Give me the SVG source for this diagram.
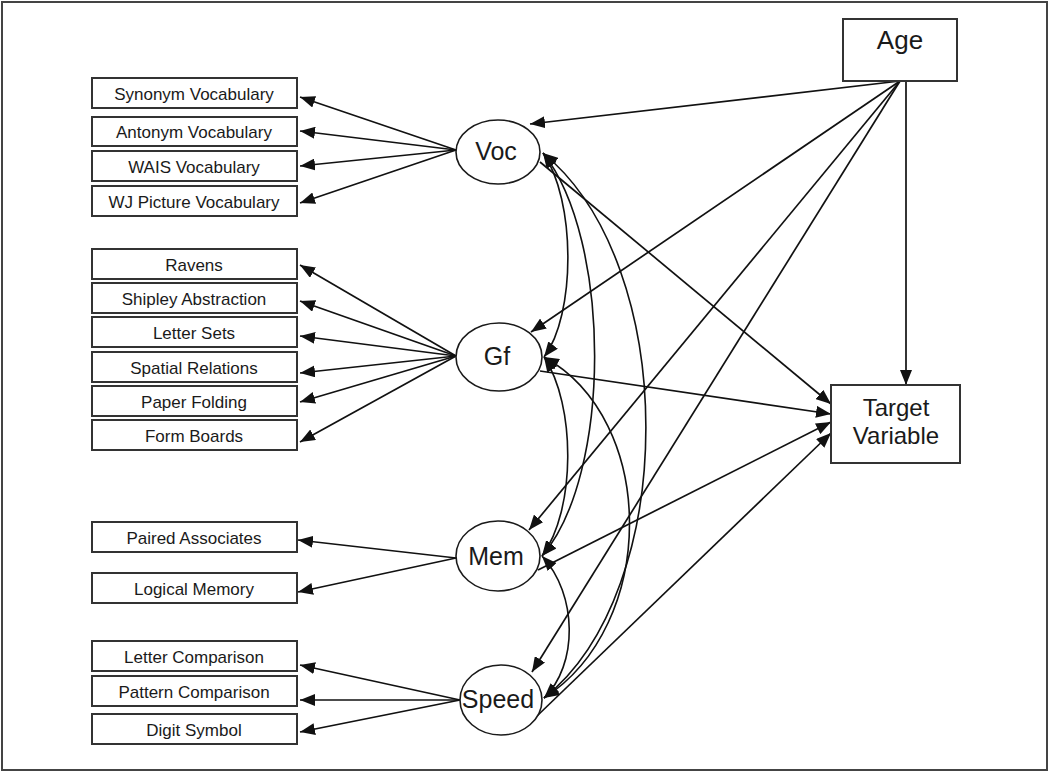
<svg xmlns="http://www.w3.org/2000/svg" width="1050" height="773" viewBox="0 0 1050 773">
<defs>
<style>
.box{fill:#fff;stroke:#333;stroke-width:2}
.ell{fill:#fff;stroke:#1a1a1a;stroke-width:1.6}
.t{font-family:"Liberation Sans",Arial,sans-serif;font-size:17px;fill:#1a1a1a;text-anchor:middle}
.lt{font-family:"Liberation Sans",Arial,sans-serif;font-size:25px;fill:#1a1a1a;text-anchor:middle}
.a{fill:none;stroke:#111;stroke-width:1.7;marker-end:url(#ah)}
.c{fill:none;stroke:#111;stroke-width:1.6;marker-end:url(#ah);marker-start:url(#ahs)}
</style>
<marker id="ah" markerUnits="userSpaceOnUse" markerWidth="16" markerHeight="12" refX="15" refY="6" orient="auto">
<path d="M0,0 L15,6 L0,12 z" fill="#111"/>
</marker>
<marker id="ahs" markerUnits="userSpaceOnUse" markerWidth="16" markerHeight="12" refX="15" refY="6" orient="auto-start-reverse">
<path d="M0,0 L15,6 L0,12 z" fill="#111"/>
</marker>
</defs>
<rect x="0" y="0" width="1050" height="773" fill="#fff"/>
<rect x="2" y="2" width="1045" height="768" fill="none" stroke="#444" stroke-width="2"/>

<g id="connectors">
<!-- Voc indicators -->
<path class="a" d="M456,150 L300,97"/>
<path class="a" d="M456,150 L300,131"/>
<path class="a" d="M456,150 L300,166"/>
<path class="a" d="M456,150 L300,203"/>
<!-- Gf indicators -->
<path class="a" d="M456,356 L300,265"/>
<path class="a" d="M456,356 L300,301"/>
<path class="a" d="M456,356 L300,336"/>
<path class="a" d="M456,356 L300,373"/>
<path class="a" d="M456,356 L300,402"/>
<path class="a" d="M456,356 L300,442"/>
<!-- Mem indicators -->
<path class="a" d="M456,558 L298,540"/>
<path class="a" d="M456,558 L298,592"/>
<!-- Speed indicators -->
<path class="a" d="M460,700 L300,665"/>
<path class="a" d="M460,700 L300,700"/>
<path class="a" d="M460,700 L300,732"/>
<!-- Age paths -->
<path class="a" d="M900,81 L530,124"/>
<path class="a" d="M900,81 L531,332"/>
<path class="a" d="M900,81 L529,530"/>
<path class="a" d="M900,81 L532,672"/>
<path class="a" d="M906,81 L906,385"/>
<!-- to Target -->
<path class="a" d="M540,162 L831,404"/>
<path class="a" d="M540,371 L831,414"/>
<path class="a" d="M538,570 L831,422"/>
<path class="a" d="M537,716 L831,433"/>
<!-- covariances -->
<path class="c" d="M543,153 C576,200 576,315 544,357"/>
<path class="c" d="M543,153 C612,240 612,475 542,556"/>
<path class="c" d="M543,153 C680,265 680,590 544,698"/>
<path class="c" d="M544,357 C576,405 576,510 542,556"/>
<path class="c" d="M544,357 C658,420 658,625 544,698"/>
<path class="c" d="M542,556 C578,595 578,665 544,698"/>
</g>

<g id="age"><rect class="box" x="843" y="19" width="114" height="62"/><text class="lt" x="900" y="49" style="font-size:26px">Age</text></g>
<g id="target"><rect class="box" x="831" y="385" width="129" height="78"/><text class="lt" x="896" y="416" style="font-size:24px">Target</text><text class="lt" x="896" y="444" style="font-size:24px">Variable</text></g>

<g id="voc"><ellipse class="ell" cx="498" cy="152" rx="42" ry="32"/><text class="lt" x="496" y="160">Voc</text></g>
<g id="gf"><ellipse class="ell" cx="499" cy="357" rx="43" ry="34"/><text class="lt" x="497" y="365">Gf</text></g>
<g id="mem"><ellipse class="ell" cx="498" cy="556" rx="42" ry="35"/><text class="lt" x="496" y="565">Mem</text></g>
<g id="speed"><ellipse class="ell" cx="501" cy="700" rx="41" ry="35"/><text class="lt" x="498" y="708">Speed</text></g>

<g id="synonym"><rect class="box" x="92" y="78" width="205" height="30"/><text class="t" x="194" y="100">Synonym Vocabulary</text></g>
<g id="antonym"><rect class="box" x="92" y="117" width="205" height="29"/><text class="t" x="194" y="138">Antonym Vocabulary</text></g>
<g id="wais"><rect class="box" x="92" y="151" width="205" height="30"/><text class="t" x="194" y="173">WAIS Vocabulary</text></g>
<g id="wj"><rect class="box" x="92" y="186" width="205" height="30"/><text class="t" x="194" y="208">WJ Picture Vocabulary</text></g>

<g id="ravens"><rect class="box" x="92" y="249" width="205" height="30"/><text class="t" x="194" y="271">Ravens</text></g>
<g id="shipley"><rect class="box" x="92" y="283" width="205" height="30"/><text class="t" x="194" y="305">Shipley Abstraction</text></g>
<g id="lettersets"><rect class="box" x="92" y="317" width="205" height="30"/><text class="t" x="194" y="339">Letter Sets</text></g>
<g id="spatial"><rect class="box" x="92" y="352" width="205" height="30"/><text class="t" x="194" y="374">Spatial Relations</text></g>
<g id="paper"><rect class="box" x="92" y="386" width="205" height="30"/><text class="t" x="194" y="408">Paper Folding</text></g>
<g id="form"><rect class="box" x="92" y="420" width="205" height="30"/><text class="t" x="194" y="442">Form Boards</text></g>

<g id="paired"><rect class="box" x="92" y="522" width="205" height="30"/><text class="t" x="194" y="544">Paired Associates</text></g>
<g id="logical"><rect class="box" x="92" y="573" width="205" height="30"/><text class="t" x="194" y="595">Logical Memory</text></g>

<g id="lettercomp"><rect class="box" x="92" y="641" width="205" height="30"/><text class="t" x="194" y="663">Letter Comparison</text></g>
<g id="patterncomp"><rect class="box" x="92" y="676" width="205" height="30"/><text class="t" x="194" y="698">Pattern Comparison</text></g>
<g id="digit"><rect class="box" x="92" y="714" width="205" height="30"/><text class="t" x="194" y="736">Digit Symbol</text></g>
</svg>
